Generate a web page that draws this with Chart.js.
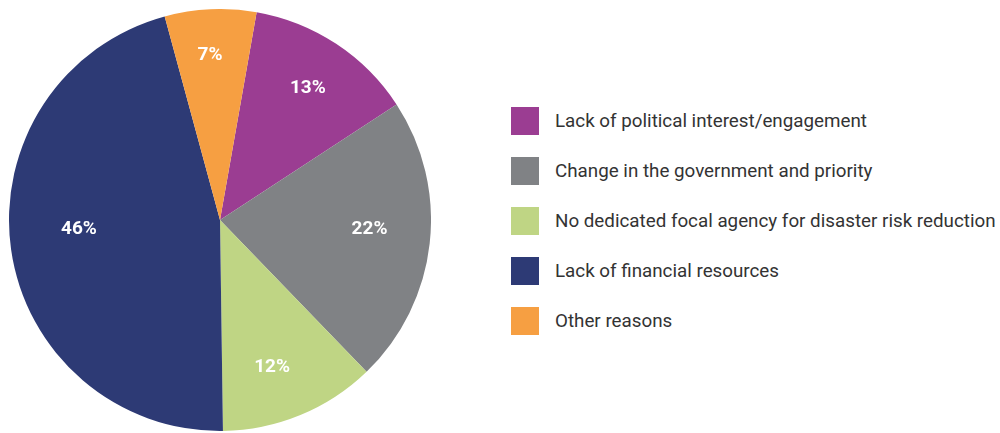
<!DOCTYPE html>
<html>
<head>
<meta charset="utf-8">
<script src="https://cdn.jsdelivr.net/npm/chart.js@4"></script>
<style>
  body { margin: 0; background: #fff; font-family: Roboto, sans-serif; }
  #wrap { position: relative; width: 1000px; height: 433px; overflow: hidden; }
  #pieBox { position: absolute; left: 9px; top: 9px; width: 422px; height: 422px; }
  #legend { position: absolute; left: 511px; top: 107px; margin: 0; padding: 0; list-style: none; }
  #legend li { display: flex; align-items: center; height: 28px; margin-bottom: 22px; }
  #legend span.box { display: inline-block; width: 28px; height: 28px; margin-right: 16px; }
  #legend span.txt { font-size: 18.8px; color: #333; white-space: nowrap; }
</style>
</head>
<body>
<div id="wrap">
  <div id="pieBox"><canvas id="pieChart"></canvas></div>
  <ul id="legend"></ul>
</div>
<script>
// Datos del gráfico
const labels = [
  'Lack of political interest/engagement',
  'Change in the government and priority',
  'No dedicated focal agency for disaster risk reduction',
  'Lack of financial resources',
  'Other reasons'
];
const values = [13, 22, 12, 46, 7];
const colors = ['#9b3d92', '#808285', '#bfd584', '#2d3a75', '#f69f42'];

// Leyenda en HTML
function buildLegend() {
  const legend = document.getElementById('legend');
  legend.innerHTML = '';
  labels.forEach((label, i) => {
    const li = document.createElement('li');
    li.innerHTML = `<span class="box" style="background:${colors[i]}"></span><span class="txt">${label}</span>`;
    legend.appendChild(li);
  });
}

// Porcentajes dentro de cada porción (ajuste fino: radio relativo y giro en grados)
const sliceLabels = {
  id: 'sliceLabels',
  afterDatasetsDraw(chart, args, opts) {
    const ctx = chart.ctx;
    const meta = chart.getDatasetMeta(0);
    ctx.save();
    ctx.fillStyle = '#fff';
    ctx.font = 'bold 19px Roboto';
    ctx.textAlign = 'center';
    ctx.textBaseline = 'middle';
    meta.data.forEach((arc, i) => {
      const nudge = opts.nudge[i] || [0.73, 0];
      const mid = (arc.startAngle + arc.endAngle) / 2 + nudge[1] * Math.PI / 180;
      const r = arc.outerRadius * nudge[0];
      ctx.fillText(values[i] + '%', arc.x + Math.cos(mid) * r, arc.y + Math.sin(mid) * r);
    });
    ctx.restore();
  }
};

buildLegend();

const ctx = document.getElementById('pieChart').getContext('2d');
new Chart(ctx, {
  type: 'pie',
  data: {
    labels: labels,
    datasets: [{
      data: values,
      backgroundColor: colors,
      borderWidth: 0
    }]
  },
  options: {
    responsive: true,
    maintainAspectRatio: false,
    animation: false,
    rotation: 10,
    layout: { padding: 0 },
    plugins: {
      legend: { display: false },
      tooltip: { enabled: false },
      sliceLabels: {
        nudge: [[0.75, 0.3], [0.71, -3.0], [0.74, 2.9], [0.67, 4.3], [0.78, -0.9]]
      }
    }
  },
  plugins: [sliceLabels]
});
</script>
</body>
</html>
